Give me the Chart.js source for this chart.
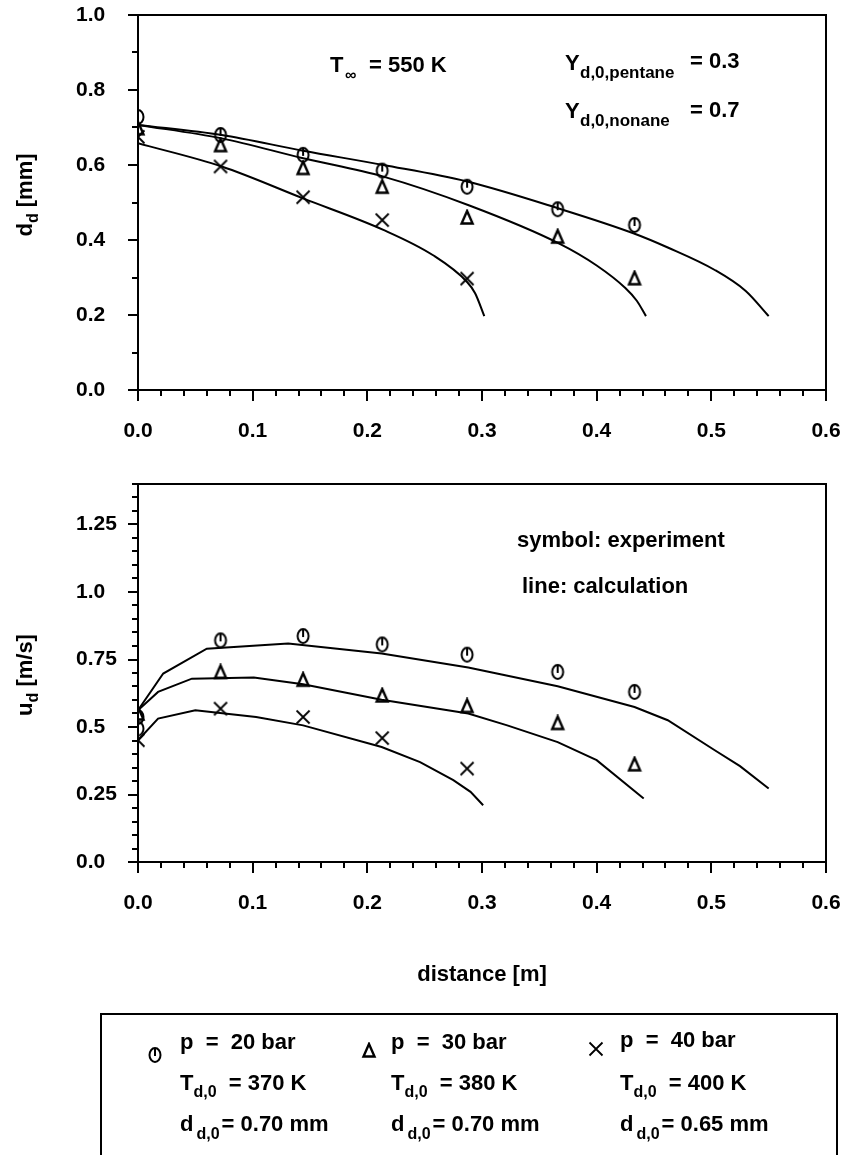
<!DOCTYPE html>
<html><head><meta charset="utf-8">
<script src="https://cdn.jsdelivr.net/npm/chart.js@4.4.0/dist/chart.umd.min.js"></script>
<style>
html,body{margin:0;padding:0;background:#fff;width:850px;height:1155px;overflow:hidden;font-family:"Liberation Sans",Arial,sans-serif;}
#c1{position:absolute;left:0;top:0;}
#c2{position:absolute;left:0;top:460px;}
#leg{position:absolute;left:100px;top:1013px;width:738px;height:160px;border:2px solid #000;border-bottom:none;box-sizing:border-box;}
.t{position:absolute;font-weight:bold;font-size:22px;line-height:22px;white-space:pre;color:#000;}
.s{font-size:16px;position:relative;top:7px;}
.s2{font-size:16px;position:relative;top:8px;margin-left:3px;margin-right:2px;}
.sym{position:absolute;}
</style></head>
<body>
<canvas id="c1" width="850" height="460"></canvas>
<canvas id="c2" width="850" height="560"></canvas>
<div id="leg"></div>
<div class="t" style="left:180px;top:1031px">p  =  20 bar</div>
<div class="t" style="left:180px;top:1072px">T<span class="s">d,0</span>  = 370 K</div>
<div class="t" style="left:180px;top:1113px">d<span class="s2">d,0</span>= 0.70 mm</div>
<div class="t" style="left:391px;top:1031px">p  =  30 bar</div>
<div class="t" style="left:391px;top:1072px">T<span class="s">d,0</span>  = 380 K</div>
<div class="t" style="left:391px;top:1113px">d<span class="s2">d,0</span>= 0.70 mm</div>
<div class="t" style="left:620px;top:1029px">p  =  40 bar</div>
<div class="t" style="left:620px;top:1072px">T<span class="s">d,0</span>  = 400 K</div>
<div class="t" style="left:620px;top:1113px">d<span class="s2">d,0</span>= 0.65 mm</div>
<script>
// ---------- data ----------
const xTickLabels = ['0.0','0.1','0.2','0.3','0.4','0.5','0.6'];
const dTickLabels = ['0.0','0.2','0.4','0.6','0.8','1.0'];
const uTickLabels = ['0.0','0.25','0.5','0.75','1.0','1.25'];

// experiment positions [m]
const xExp = [0, 0.072, 0.144, 0.213, 0.287, 0.366, 0.433];

// droplet diameter, experiment [mm]
const dExp20 = [0.728, 0.680, 0.627, 0.585, 0.542, 0.482, 0.440];
const dExp30 = [0.698, 0.653, 0.592, 0.542, 0.460, 0.409, 0.298];
const dExp40 = [0.675, 0.596, 0.514, 0.453, 0.297];

// droplet diameter, calculation
const dCalc20x = [0, 0.073, 0.144, 0.214, 0.287, 0.367, 0.432, 0.462, 0.503, 0.530, 0.550];
const dCalc20  = [0.707, 0.680, 0.638, 0.600, 0.556, 0.484, 0.418, 0.380, 0.320, 0.264, 0.197];
const dCalc30x = [0, 0.073, 0.144, 0.214, 0.289, 0.367, 0.400, 0.425, 0.435, 0.443];
const dCalc30  = [0.707, 0.671, 0.618, 0.569, 0.492, 0.391, 0.332, 0.272, 0.238, 0.197];
const dCalc40x = [0, 0.073, 0.144, 0.214, 0.257, 0.287, 0.294, 0.302];
const dCalc40  = [0.658, 0.596, 0.511, 0.427, 0.360, 0.288, 0.258, 0.197];

// droplet velocity, experiment [m/s]
const uExp20x = [0, 0, 0.072, 0.144, 0.213, 0.287, 0.366, 0.433];
const uExp20  = [0.537, 0.494, 0.821, 0.837, 0.806, 0.768, 0.704, 0.630];
const uExp30  = [0.550, 0.704, 0.675, 0.617, 0.578, 0.515, 0.362];
const uExp40  = [0.451, 0.568, 0.537, 0.459, 0.346];

// droplet velocity, calculation
const uCalc20x = [0, 0.022, 0.060, 0.131, 0.2125, 0.288, 0.366, 0.433, 0.462, 0.503, 0.525, 0.550];
const uCalc20  = [0.562, 0.698, 0.790, 0.809, 0.772, 0.720, 0.651, 0.574, 0.525, 0.414, 0.355, 0.272];
const uCalc30x = [0, 0.0175, 0.047, 0.101, 0.144, 0.2125, 0.288, 0.322, 0.366, 0.400, 0.441];
const uCalc30  = [0.562, 0.630, 0.679, 0.683, 0.658, 0.601, 0.550, 0.506, 0.444, 0.377, 0.235];
const uCalc40x = [0, 0.0175, 0.050, 0.103, 0.144, 0.2125, 0.246, 0.275, 0.290, 0.301];
const uCalc40  = [0.451, 0.531, 0.562, 0.537, 0.506, 0.426, 0.370, 0.303, 0.260, 0.210];

// ---------- markers ----------
function mk(w, h, draw){
  const c = document.createElement('canvas'); c.width = w; c.height = h;
  const g = c.getContext('2d'); g.strokeStyle = '#000'; g.lineCap = 'butt'; draw(g, w, h); return c;
}
function circleMark(){ return mk(16, 18, (g,w,h)=>{ g.lineWidth = 2; g.beginPath(); g.ellipse(w/2, h/2, 5.5, 7, 0, 0, Math.PI*2); g.stroke();
  g.beginPath(); g.moveTo(w/2, h/2-7); g.lineTo(w/2, h/2+1); g.stroke(); }); }
function triMark(){ return mk(16, 17, (g,w,h)=>{ g.lineWidth = 2.4; g.lineJoin='miter'; g.beginPath(); g.moveTo(w/2, 2); g.lineTo(w/2+5.5, h-2.5); g.lineTo(w/2-5.5, h-2.5); g.closePath(); g.stroke(); }); }
function crossMark(){ return mk(16, 16, (g,w,h)=>{ g.lineWidth = 1.8; g.beginPath(); g.moveTo(1.5,1.5); g.lineTo(w-1.5,h-1.5); g.moveTo(w-1.5,1.5); g.lineTo(1.5,h-1.5); g.stroke(); }); }

// ---------- helpers ----------
Chart.defaults.font.family = '"Liberation Sans", Arial, sans-serif';
Chart.defaults.font.weight = 'bold';
Chart.defaults.font.size = 21;
Chart.defaults.color = '#000';
Chart.defaults.animation = false;

function pts(xs, ys){ return ys.map((v, i) => ({x: xs[i], y: v})); }
function lineDs(xs, ys, mono){
  return {data: pts(xs, ys), showLine: true, borderColor: '#000', borderWidth: 2, pointRadius: 0,
          fill: false, tension: 0, cubicInterpolationMode: mono ? 'monotone' : 'default', order: 2};
}
function markDs(xs, ys, img){
  return {data: pts(xs, ys), showLine: false, pointStyle: img, pointRadius: 7,
          borderColor: '#000', backgroundColor: 'rgba(0,0,0,0)', order: 1};
}

const framePlugin = {
  id: 'axTicks',
  afterDraw(chart, args, o){
    const {ctx, chartArea: a, scales: {x, y}} = chart;
    ctx.save(); ctx.strokeStyle = '#000'; ctx.lineWidth = 2;
    ctx.strokeRect(a.left, a.top, a.right - a.left, a.bottom - a.top);
    ctx.beginPath();
    const nx = Math.round((o.xMax - o.xMin) / o.xStep);
    for (let i = 0; i <= nx; i++){
      const px = Math.round(x.getPixelForValue(o.xMin + i * o.xStep));
      const len = (i % o.xEvery === 0) ? 11 : 6;
      ctx.moveTo(px, a.bottom); ctx.lineTo(px, a.bottom + len);
    }
    const ny = Math.round((o.yMax - o.yMin) / o.yStep);
    for (let i = 0; i <= ny; i++){
      const py = Math.round(y.getPixelForValue(o.yMin + i * o.yStep));
      const len = (i % o.yEvery === 0) ? 10 : 6;
      ctx.moveTo(a.left, py); ctx.lineTo(a.left - len, py);
    }
    ctx.stroke();
    // rotated y title with subscript
    const t = o.yTitle;
    ctx.fillStyle = '#000';
    ctx.translate(t.cx, t.cy); ctx.rotate(-Math.PI/2);
    ctx.font = 'bold 22px "Liberation Sans", Arial, sans-serif';
    const w1 = ctx.measureText(t.main).width;
    const w3 = ctx.measureText(t.rest).width;
    ctx.font = 'bold 16px "Liberation Sans", Arial, sans-serif';
    const w2 = ctx.measureText(t.sub).width;
    let sx = -(w1 + w2 + w3) / 2;
    ctx.textBaseline = 'alphabetic'; ctx.textAlign = 'left';
    ctx.font = 'bold 22px "Liberation Sans", Arial, sans-serif';
    ctx.fillText(t.main, sx, 8); sx += w1;
    ctx.font = 'bold 16px "Liberation Sans", Arial, sans-serif';
    ctx.fillText(t.sub, sx, 14); sx += w2;
    ctx.font = 'bold 22px "Liberation Sans", Arial, sans-serif';
    ctx.fillText(t.rest, sx, 8);
    ctx.restore();
  }
};

const notesPlugin = {
  id: 'notes',
  afterDraw(chart, args, o){
    const ctx = chart.ctx; ctx.save(); ctx.fillStyle = '#000';
    ctx.textAlign = 'left'; ctx.textBaseline = 'alphabetic';
    for (const it of o.items){
      ctx.font = 'bold ' + it.size + 'px "Liberation Sans", Arial, sans-serif';
      ctx.fillText(it.text, it.x, it.y);
    }
    ctx.restore();
  }
};

function xScale(h, titleOpt){
  return {type: 'linear', min: 0, max: 0.6,
    ticks: {stepSize: 0.1, padding: 0, maxRotation: 0, autoSkip: false, callback: (v, i) => xTickLabels[i] ?? ''},
    grid: {drawOnChartArea: false, drawTicks: true, tickLength: 29, tickColor: 'rgba(0,0,0,0)', color: 'rgba(0,0,0,0)'},
    border: {display: true, color: '#000', width: 2},
    title: titleOpt || {display: false},
    afterFit: s => { s.height = h; }};
}
function yScale(max, step, labels){
  return {type: 'linear', min: 0, max: max,
    ticks: {stepSize: step, includeBounds: false, crossAlign: 'far', padding: 0, callback: (v, i) => labels[i] ?? ''},
    grid: {drawOnChartArea: false, drawTicks: false},
    border: {display: true, color: '#000', width: 2},
    afterFit: s => { s.width = 62; }};
}

// ---------- top chart ----------
new Chart(document.getElementById('c1'), {
  type: 'scatter',
  data: {datasets: [
    lineDs(dCalc20x, dCalc20, true), lineDs(dCalc30x, dCalc30, true), lineDs(dCalc40x, dCalc40, true),
    markDs(xExp, dExp20, circleMark()), markDs(xExp, dExp30, triMark()), markDs(xExp.slice(0, dExp40.length), dExp40, crossMark())
  ]},
  options: {
    responsive: false, animation: false, events: [],
    layout: {padding: {left: 76, top: 15, right: 24, bottom: 0}},
    scales: {x: xScale(70), y: yScale(1.0, 0.2, dTickLabels)},
    plugins: {legend: {display: false}, tooltip: {enabled: false},
      axTicks: {xMin: 0, xMax: 0.6, xStep: 0.02, xEvery: 5, yMin: 0, yMax: 1.0, yStep: 0.1, yEvery: 2,
                yTitle: {cx: 24, cy: 195, main: 'd', sub: 'd', rest: ' [mm]'}},
      notes: {items: [
        {text: 'T', size: 22, x: 330, y: 72},
        {text: '∞', size: 16, x: 345, y: 80},
        {text: '= 550 K', size: 22, x: 369, y: 72},
        {text: 'Y', size: 22, x: 565, y: 70},
        {text: 'd,0,pentane', size: 17, x: 580, y: 78},
        {text: '= 0.3', size: 22, x: 690, y: 68},
        {text: 'Y', size: 22, x: 565, y: 118},
        {text: 'd,0,nonane', size: 17, x: 580, y: 126},
        {text: '= 0.7', size: 22, x: 690, y: 117}
      ]}
    }
  },
  plugins: [framePlugin, notesPlugin]
});

// ---------- bottom chart ----------
new Chart(document.getElementById('c2'), {
  type: 'scatter',
  data: {datasets: [
    lineDs(uCalc20x, uCalc20, false), lineDs(uCalc30x, uCalc30, false), lineDs(uCalc40x, uCalc40, false),
    markDs(uExp20x, uExp20, circleMark()), markDs(xExp, uExp30, triMark()), markDs(xExp.slice(0, uExp40.length), uExp40, crossMark())
  ]},
  options: {
    responsive: false, animation: false, events: [],
    layout: {padding: {left: 76, top: 24, right: 24, bottom: 0}},
    scales: {
      x: xScale(158, {display: true, text: 'distance [m]', font: {size: 22, weight: 'bold'}, color: '#000', padding: {top: 0, bottom: 32}}),
      y: yScale(1.4, 0.25, uTickLabels)
    },
    plugins: {legend: {display: false}, tooltip: {enabled: false},
      axTicks: {xMin: 0, xMax: 0.6, xStep: 0.02, xEvery: 5, yMin: 0, yMax: 1.4, yStep: 0.05, yEvery: 5,
                yTitle: {cx: 24, cy: 215, main: 'u', sub: 'd', rest: ' [m/s]'}},
      notes: {items: [
        {text: 'symbol: experiment', size: 22, x: 517, y: 87},
        {text: 'line: calculation', size: 22, x: 522, y: 133}
      ]}
    }
  },
  plugins: [framePlugin, notesPlugin]
});

// ---------- legend symbols ----------
const legSyms = [[circleMark(), 155, 1055], [triMark(), 369, 1050], [crossMark(), 596, 1049]];
for (const [c, cx, cy] of legSyms){
  c.className = 'sym'; c.style.left = (cx - c.width/2) + 'px'; c.style.top = (cy - c.height/2) + 'px';
  document.body.appendChild(c);
}
</script>
</body></html>
